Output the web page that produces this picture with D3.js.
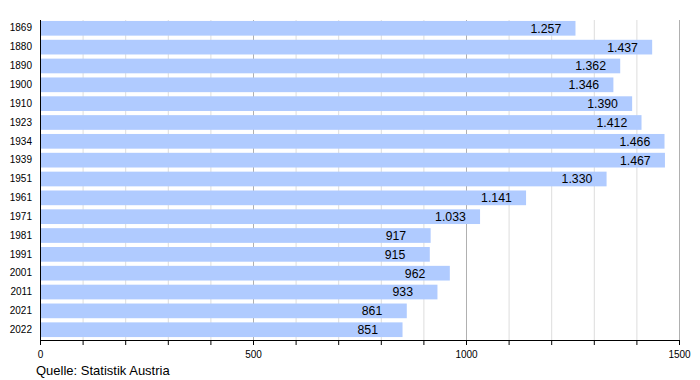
<!DOCTYPE html>
<html><head><meta charset="utf-8">
<script src="https://cdn.jsdelivr.net/npm/d3@7"></script>
<style>body{margin:0;background:#fff}svg{display:block;font-family:"Liberation Sans",Arial,sans-serif}</style>
</head><body><svg id="c" width="700" height="380"></svg>
<script>
const years = ["1869","1880","1890","1900","1910","1923","1934","1939","1951","1961","1971","1981","1991","2001","2011","2021","2022"];
const values = [1257,1437,1362,1346,1390,1412,1466,1467,1330,1141,1033,917,915,962,933,861,851];
const xTicks = [0,500,1000,1500];
const source = "Quelle: Statistik Austria";

const svg = d3.select("#c");
const x = d3.scaleLinear().domain([0,1500]).range([40,679]);
const y = d3.scaleBand().domain(years).range([20,338]).paddingInner(0.22).paddingOuter(0.05);
const fmt = v => d3.format(",")(v).replace(/,/g,".");

// grid
const minor = d3.range(100,1501,100).filter(v=>v%500!==0);
svg.append("g").selectAll("line").data(minor).join("line")
  .attr("x1",d=>x(d)+0.5).attr("x2",d=>x(d)+0.5).attr("y1",20).attr("y2",340)
  .attr("stroke","#dddddd");
svg.append("g").selectAll("line").data([500,1000,1500]).join("line")
  .attr("x1",d=>x(d)+0.5).attr("x2",d=>x(d)+0.5).attr("y1",20).attr("y2",340)
  .attr("stroke","#b0b0b0");

// bars
svg.append("g").selectAll("rect").data(years).join("rect")
  .attr("x",x(0)).attr("y",d=>y(d)).attr("height",y.bandwidth())
  .attr("width",(d,i)=>x(values[i])-x(0)).attr("fill","#b0cbff");

// value labels
svg.append("g").selectAll("text").data(years).join("text")
  .attr("x",(d,i)=>x(values[i])-45).attr("y",d=>y(d)+y.bandwidth()/2)
  .attr("dy","0.36em").attr("text-anchor","start").attr("font-size",12.3).attr("fill","#000")
  .text((d,i)=>fmt(values[i]));

// x axis
const xa = svg.append("g").attr("transform","translate(0,340)")
  .call(d3.axisBottom(x).tickValues(d3.range(0,1501,100)).tickSize(5).tickFormat(d=>xTicks.includes(d)?d:""));
xa.select(".domain").attr("stroke","#000").attr("d","M40.5,0.5H679.5");
xa.selectAll(".tick line").attr("stroke","#000");
xa.selectAll(".tick text").attr("font-size",10).attr("fill","#000").attr("dy","0.71em").attr("y",11);
xa.attr("font-family",null);

// y axis
const ya = svg.append("g").attr("transform","translate(40,0)")
  .call(d3.axisLeft(y).tickSize(0).tickPadding(8));
ya.select(".domain").attr("stroke","#000").attr("d","M0.5,20V340.5");
ya.selectAll(".tick text").attr("font-size",10).attr("fill","#000");
ya.attr("font-family",null);

svg.append("text").attr("x",36).attr("y",375).attr("font-size",13).attr("fill","#000").text(source);
</script></body></html>
